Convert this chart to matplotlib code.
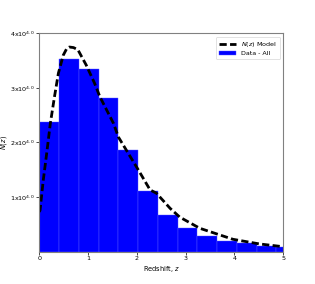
import numpy as np
import matplotlib
matplotlib.use('Agg')
import matplotlib.pyplot as plt
from matplotlib.ticker import FuncFormatter

# histogram bins (width ~0.405) and counts
bin_width = 0.405
bin_left = np.arange(13) * bin_width
counts = [23700, 35380, 33430, 28220, 18620, 11050, 6640,
          4260, 2840, 1980, 1500, 1060, 880]

# model curve N(z)
model_z = [0.0, 0.014, 0.08, 0.15, 0.225, 0.31, 0.39, 0.49, 0.56, 0.615,
           0.7, 0.79, 0.96, 1.13, 1.24, 1.52, 1.62, 2.03, 2.27, 2.4,
           2.68, 2.88, 3.29, 3.97, 4.52, 5.0]
model_n = [7250, 7600, 13100, 18000, 23500, 28400, 32700, 36000, 37200, 37500,
           37400, 37000, 34200, 30900, 28400, 23500, 21000, 14950, 11300, 10700,
           7930, 6300, 4260, 2240, 1380, 880]

fig = plt.figure(figsize=(3.15, 2.84), dpi=100)
ax = fig.add_axes([0.125, 0.1144, 0.774, 0.768])

ax.bar(bin_left, counts, width=bin_width, align='edge', color='blue',
       edgecolor='#5a5aff', linewidth=0.3, label='Data - All', zorder=1)
ax.plot(model_z, model_n, color='black', lw=2, dashes=(2.6, 1.2),
        label='$N(z)$ Model', zorder=2)

ax.set_xlim(0, 5)
ax.set_ylim(0, 40000)
ax.set_xticks([0, 1, 2, 3, 4, 5])
ax.set_yticks([10000, 20000, 30000, 40000])


def fmt(v, pos):
    return r'%dx10$^{4.0}$' % int(round(v / 1e4))


ax.yaxis.set_major_formatter(FuncFormatter(fmt))
ax.tick_params(labelsize=4.6, length=2, width=0.5, pad=1.2)
for s in ax.spines.values():
    s.set_color('#808080')
    s.set_linewidth(0.8)

ax.set_xlabel('Redshift, $z$', fontsize=4.8, labelpad=2)
ax.set_ylabel('$N(z)$', fontsize=4.8, labelpad=1)
leg = ax.legend(loc='upper right', fontsize=4.6, handlelength=2.6,
                borderpad=0.5, labelspacing=0.3, framealpha=0.8)
leg.get_frame().set_linewidth(0.5)

fig.savefig('out.png', dpi=100)
